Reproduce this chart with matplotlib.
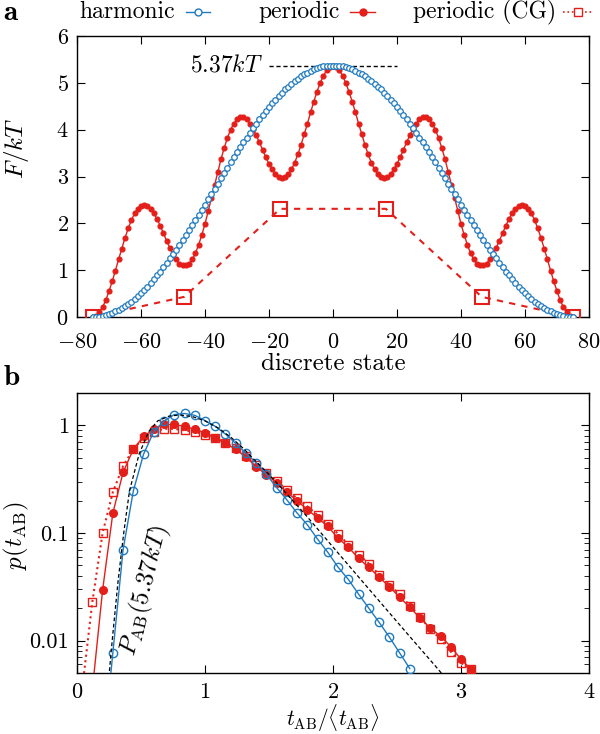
import numpy as np
import matplotlib
matplotlib.use('Agg')
import matplotlib.pyplot as plt
from matplotlib.lines import Line2D
from matplotlib.ticker import FixedLocator, FuncFormatter, MultipleLocator

# ---- panel a: free energy profiles over the discrete states ----
state = list(range(-75, 76))
F_harmonic = [
    0.00, 0.00, 0.01, 0.02, 0.04, 0.06, 0.08, 0.12, 0.15, 0.19, 0.23, 0.28, 0.33, 0.39, 0.45,
    0.51, 0.58, 0.65, 0.73, 0.81, 0.89, 0.97, 1.06, 1.15, 1.25, 1.34, 1.44, 1.54, 1.65, 1.75,
    1.86, 1.96, 2.07, 2.18, 2.29, 2.40, 2.52, 2.63, 2.74, 2.85, 2.97, 3.08, 3.19, 3.30, 3.41,
    3.52, 3.62, 3.73, 3.83, 3.93, 4.03, 4.12, 4.22, 4.31, 4.40, 4.48, 4.56, 4.64, 4.72, 4.79,
    4.86, 4.92, 4.98, 5.04, 5.09, 5.14, 5.18, 5.22, 5.26, 5.29, 5.31, 5.33, 5.35, 5.36, 5.37,
    5.37,
    5.37, 5.36, 5.35, 5.33, 5.31, 5.29, 5.26, 5.22, 5.18, 5.14, 5.09, 5.04, 4.98, 4.92, 4.86,
    4.79, 4.72, 4.64, 4.56, 4.48, 4.40, 4.31, 4.22, 4.12, 4.03, 3.93, 3.83, 3.73, 3.62, 3.52,
    3.41, 3.30, 3.19, 3.08, 2.97, 2.85, 2.74, 2.63, 2.52, 2.40, 2.29, 2.18, 2.07, 1.96, 1.86,
    1.75, 1.65, 1.54, 1.44, 1.34, 1.25, 1.15, 1.06, 0.97, 0.89, 0.81, 0.73, 0.65, 0.58, 0.51,
    0.45, 0.39, 0.33, 0.28, 0.23, 0.19, 0.15, 0.12, 0.08, 0.06, 0.04, 0.02, 0.01, 0.00, 0.00,
]
F_periodic = [
    0.00, 0.02, 0.10, 0.21, 0.36, 0.55, 0.76, 0.99, 1.23, 1.46, 1.69, 1.89, 2.07, 2.21, 2.31,
    2.38, 2.39, 2.37, 2.31, 2.22, 2.09, 1.95, 1.79, 1.63, 1.48, 1.34, 1.23, 1.14, 1.10, 1.10,
    1.14, 1.23, 1.36, 1.54, 1.75, 1.99, 2.26, 2.54, 2.82, 3.10, 3.37, 3.61, 3.82, 4.00, 4.13,
    4.22, 4.26, 4.26, 4.22, 4.13, 4.02, 3.88, 3.73, 3.57, 3.41, 3.27, 3.15, 3.05, 2.99, 2.97,
    2.99, 3.05, 3.15, 3.29, 3.47, 3.67, 3.90, 4.13, 4.37, 4.60, 4.81, 5.00, 5.15, 5.27, 5.34,
    5.37,
    5.34, 5.27, 5.15, 5.00, 4.81, 4.60, 4.37, 4.13, 3.90, 3.67, 3.47, 3.29, 3.15, 3.05, 2.99,
    2.97, 2.99, 3.05, 3.15, 3.27, 3.41, 3.57, 3.73, 3.88, 4.02, 4.13, 4.22, 4.26, 4.26, 4.22,
    4.13, 4.00, 3.82, 3.61, 3.37, 3.10, 2.82, 2.54, 2.26, 1.99, 1.75, 1.54, 1.36, 1.23, 1.14,
    1.10, 1.10, 1.14, 1.23, 1.34, 1.48, 1.63, 1.79, 1.95, 2.09, 2.22, 2.31, 2.37, 2.39, 2.38,
    2.31, 2.21, 2.07, 1.89, 1.69, 1.46, 1.23, 0.99, 0.76, 0.55, 0.36, 0.21, 0.10, 0.02, 0.00,
]
cg_state = [-75, -46.5, -16.5, 16.5, 46.5, 75]
F_cg = [0.0, 0.43, 2.31, 2.31, 0.43, 0.0]
barrier = 5.37
barrier_x = [-20, 20]

# ---- panel b: first passage time distributions ----
# first entry of each series only extends the line below the axis (no marker)
t_harm = [0.24, 0.28, 0.36, 0.44, 0.52, 0.60, 0.68, 0.76, 0.84, 0.92, 1.00, 1.08, 1.16, 1.24,
          1.32, 1.40, 1.48, 1.56, 1.64, 1.72, 1.80, 1.88, 1.96, 2.04, 2.12, 2.20, 2.28, 2.36,
          2.44, 2.52, 2.60]
p_harm = [0.0025, 0.0077, 0.070, 0.246, 0.54, 0.875, 1.10, 1.26, 1.29, 1.24, 1.11, 0.98, 0.83,
          0.68, 0.55, 0.45, 0.35, 0.264, 0.203, 0.153, 0.119, 0.0875, 0.066, 0.048, 0.037,
          0.027, 0.020, 0.0148, 0.0108, 0.0077, 0.0055]
t_per = [0.12, 0.20, 0.28, 0.36, 0.44, 0.52, 0.60, 0.68, 0.76, 0.84, 0.92, 1.00, 1.08, 1.16,
         1.24, 1.32, 1.40, 1.48, 1.56, 1.64, 1.72, 1.80, 1.88, 1.96, 2.04, 2.12, 2.20, 2.28,
         2.36, 2.44, 2.52, 2.60, 2.68, 2.76, 2.84, 2.92, 3.00, 3.08]
p_per = [0.0035, 0.0295, 0.153, 0.366, 0.60, 0.79, 0.92, 1.02, 1.02, 0.98, 0.92, 0.855, 0.77,
         0.68, 0.60, 0.505, 0.414, 0.346, 0.294, 0.239, 0.199, 0.165, 0.138, 0.115, 0.0895,
         0.074, 0.058, 0.048, 0.039, 0.0316, 0.0254, 0.0204, 0.0162, 0.0131, 0.0110, 0.0088,
         0.0067, 0.0054]
t_cg = [0.04, 0.12, 0.20, 0.28, 0.36, 0.44, 0.52, 0.60, 0.68, 0.76, 0.84, 0.92, 1.00, 1.08,
        1.16, 1.24, 1.32, 1.40, 1.48, 1.56, 1.64, 1.72, 1.80, 1.88, 1.96, 2.04, 2.12, 2.20,
        2.28, 2.36, 2.44, 2.52, 2.60, 2.68, 2.76, 2.84, 2.92, 3.00, 3.08]
p_cg = [0.0035, 0.023, 0.10, 0.24, 0.42, 0.60, 0.77, 0.87, 0.93, 0.93, 0.90, 0.875, 0.81, 0.76,
        0.69, 0.61, 0.52, 0.43, 0.36, 0.305, 0.25, 0.21, 0.177, 0.146, 0.121, 0.098, 0.078,
        0.063, 0.052, 0.041, 0.033, 0.027, 0.0211, 0.0166, 0.0127, 0.0104, 0.0079, 0.0062,
        0.0054]
t_theory = [0.24, 0.275, 0.32, 0.365, 0.41, 0.485, 0.56, 0.63, 0.72, 0.80, 0.90, 1.00, 1.10,
            1.20, 1.30, 1.40, 1.50, 1.60, 1.80, 2.00, 2.20, 2.40, 2.60, 2.80, 2.90]
p_theory = [0.0035, 0.01, 0.035, 0.10, 0.246, 0.54, 0.875, 1.10, 1.22, 1.25, 1.21, 1.10, 0.95,
            0.78, 0.61, 0.46, 0.35, 0.26, 0.141, 0.074, 0.039, 0.0206, 0.0109, 0.0058, 0.0042]

RED = '#e41f1a'
BLUE = '#1f7abf'

plt.rcParams.update({
    'font.family': 'serif',
    'font.serif': ['cmr10', 'DejaVu Serif'],
    'mathtext.fontset': 'cm',
    'axes.formatter.use_mathtext': True,
    'axes.unicode_minus': True,
    'font.size': 16,
    'axes.linewidth': 1.0,
    'xtick.direction': 'in', 'ytick.direction': 'in',
    'xtick.top': True, 'ytick.right': True,
    'xtick.major.size': 6, 'ytick.major.size': 6,
    'xtick.minor.size': 3.5, 'ytick.minor.size': 3.5,
    'ytick.major.pad': 6,
})

fig = plt.figure(figsize=(6, 7.34), dpi=100)
W, H = 600, 734
ax1 = fig.add_axes([77 / W, 1 - 317 / H, 512 / W, 281 / H])
ax2 = fig.add_axes([77 / W, 1 - 673 / H, 512 / W, 280 / H])

# panel a
ax1.plot(state, F_periodic, '-o', color=RED, lw=1.0, ms=3.4, zorder=3)
ax1.plot(cg_state, F_cg, '--s', color=RED, lw=1.5, dashes=(3, 3), ms=10, mfc='none',
         mew=1.5, zorder=4)
ax1.plot(state, F_harmonic, '-o', color=BLUE, lw=0.8, ms=4.0, mfc='white', mew=0.9, zorder=5)
ax1.plot(barrier_x, [barrier, barrier], 'k--', lw=1.0, dashes=(3, 2), zorder=2)
ax1.text(barrier_x[0] - 2, barrier, r'$5.37kT$', ha='right', va='center', fontsize=17)
ax1.set_xlim(-80, 80)
ax1.set_ylim(0, 6)
ax1.xaxis.set_major_locator(MultipleLocator(20))
ax1.yaxis.set_major_locator(MultipleLocator(1))
ax1.tick_params(axis='x', pad=11)
ax1.set_xlabel('discrete state', fontsize=18, labelpad=1)
ax1.set_ylabel(r'$F/kT$', fontsize=18)
ax1.yaxis.set_label_coords(-0.09, 0.6)

# panel b
ax2.plot(t_per, p_per, '-o', color=RED, lw=1.0, ms=5.5, markevery=slice(1, None), zorder=3)
ax2.plot(t_cg, p_cg, ':s', color=RED, lw=1.5, ms=6, mfc='none', mew=1.0,
         markevery=slice(1, None), zorder=4)
ax2.plot(t_harm, p_harm, '-o', color=BLUE, lw=1.0, ms=6, mfc='none', mew=1.0,
         markevery=slice(1, None), zorder=5)
ax2.plot(t_theory, p_theory, 'k--', lw=0.9, dashes=(3, 2), zorder=6)
ax2.text(0.53, 0.0293, r'$P_{\rm AB}(5.37kT)$', rotation=76, ha='center', va='center',
         fontsize=18)
ax2.set_xlim(0, 4)
ax2.set_yscale('log')
ax2.set_ylim(0.005, 2)
ax2.xaxis.set_major_locator(MultipleLocator(1))
ax2.yaxis.set_major_locator(FixedLocator([0.01, 0.1, 1]))
ax2.yaxis.set_major_formatter(FuncFormatter(lambda v, pos: f'{v:g}'))
ax2.tick_params(axis='x', pad=7)
ax2.set_xlabel(r'$t_{\rm AB}/\langle t_{\rm AB}\rangle$', fontsize=15.5, labelpad=0)
ax2.set_ylabel(r'$p(t_{\rm AB})$', fontsize=18)
ax2.yaxis.set_label_coords(-0.09, 0.49)

for ax in (ax1, ax2):
    ax.tick_params(labelsize=16)

# legend along the top
legend_y = 1 - 12 / H
entries = [
    ('harmonic', 79, 186, 210, dict(color=BLUE, marker='o', ms=5, mfc='white', mew=1.0, lw=1.0)),
    ('periodic', 258, 350, 375, dict(color=RED, marker='o', ms=5, lw=1.0)),
    ('periodic (CG)', 413, 563, 592, dict(color=RED, marker='s', ms=5.5, mfc='white', mew=1.0,
                                          lw=1.2, ls=':')),
]
for label, xt, x0, x1, style in entries:
    fig.text(xt / W, legend_y, label, ha='left', va='center', fontsize=17)
    fig.add_artist(Line2D([x0 / W, (x0 + x1) / 2 / W, x1 / W], [legend_y] * 3,
                          transform=fig.transFigure, markevery=[1], **style))

fig.text(3 / W, 1 - 13 / H, r'$\mathbf{a}$', ha='left', va='center', fontsize=21)
fig.text(3 / W, 1 - 378 / H, r'$\mathbf{b}$', ha='left', va='center', fontsize=21)

fig.savefig('out.png', dpi=100)
